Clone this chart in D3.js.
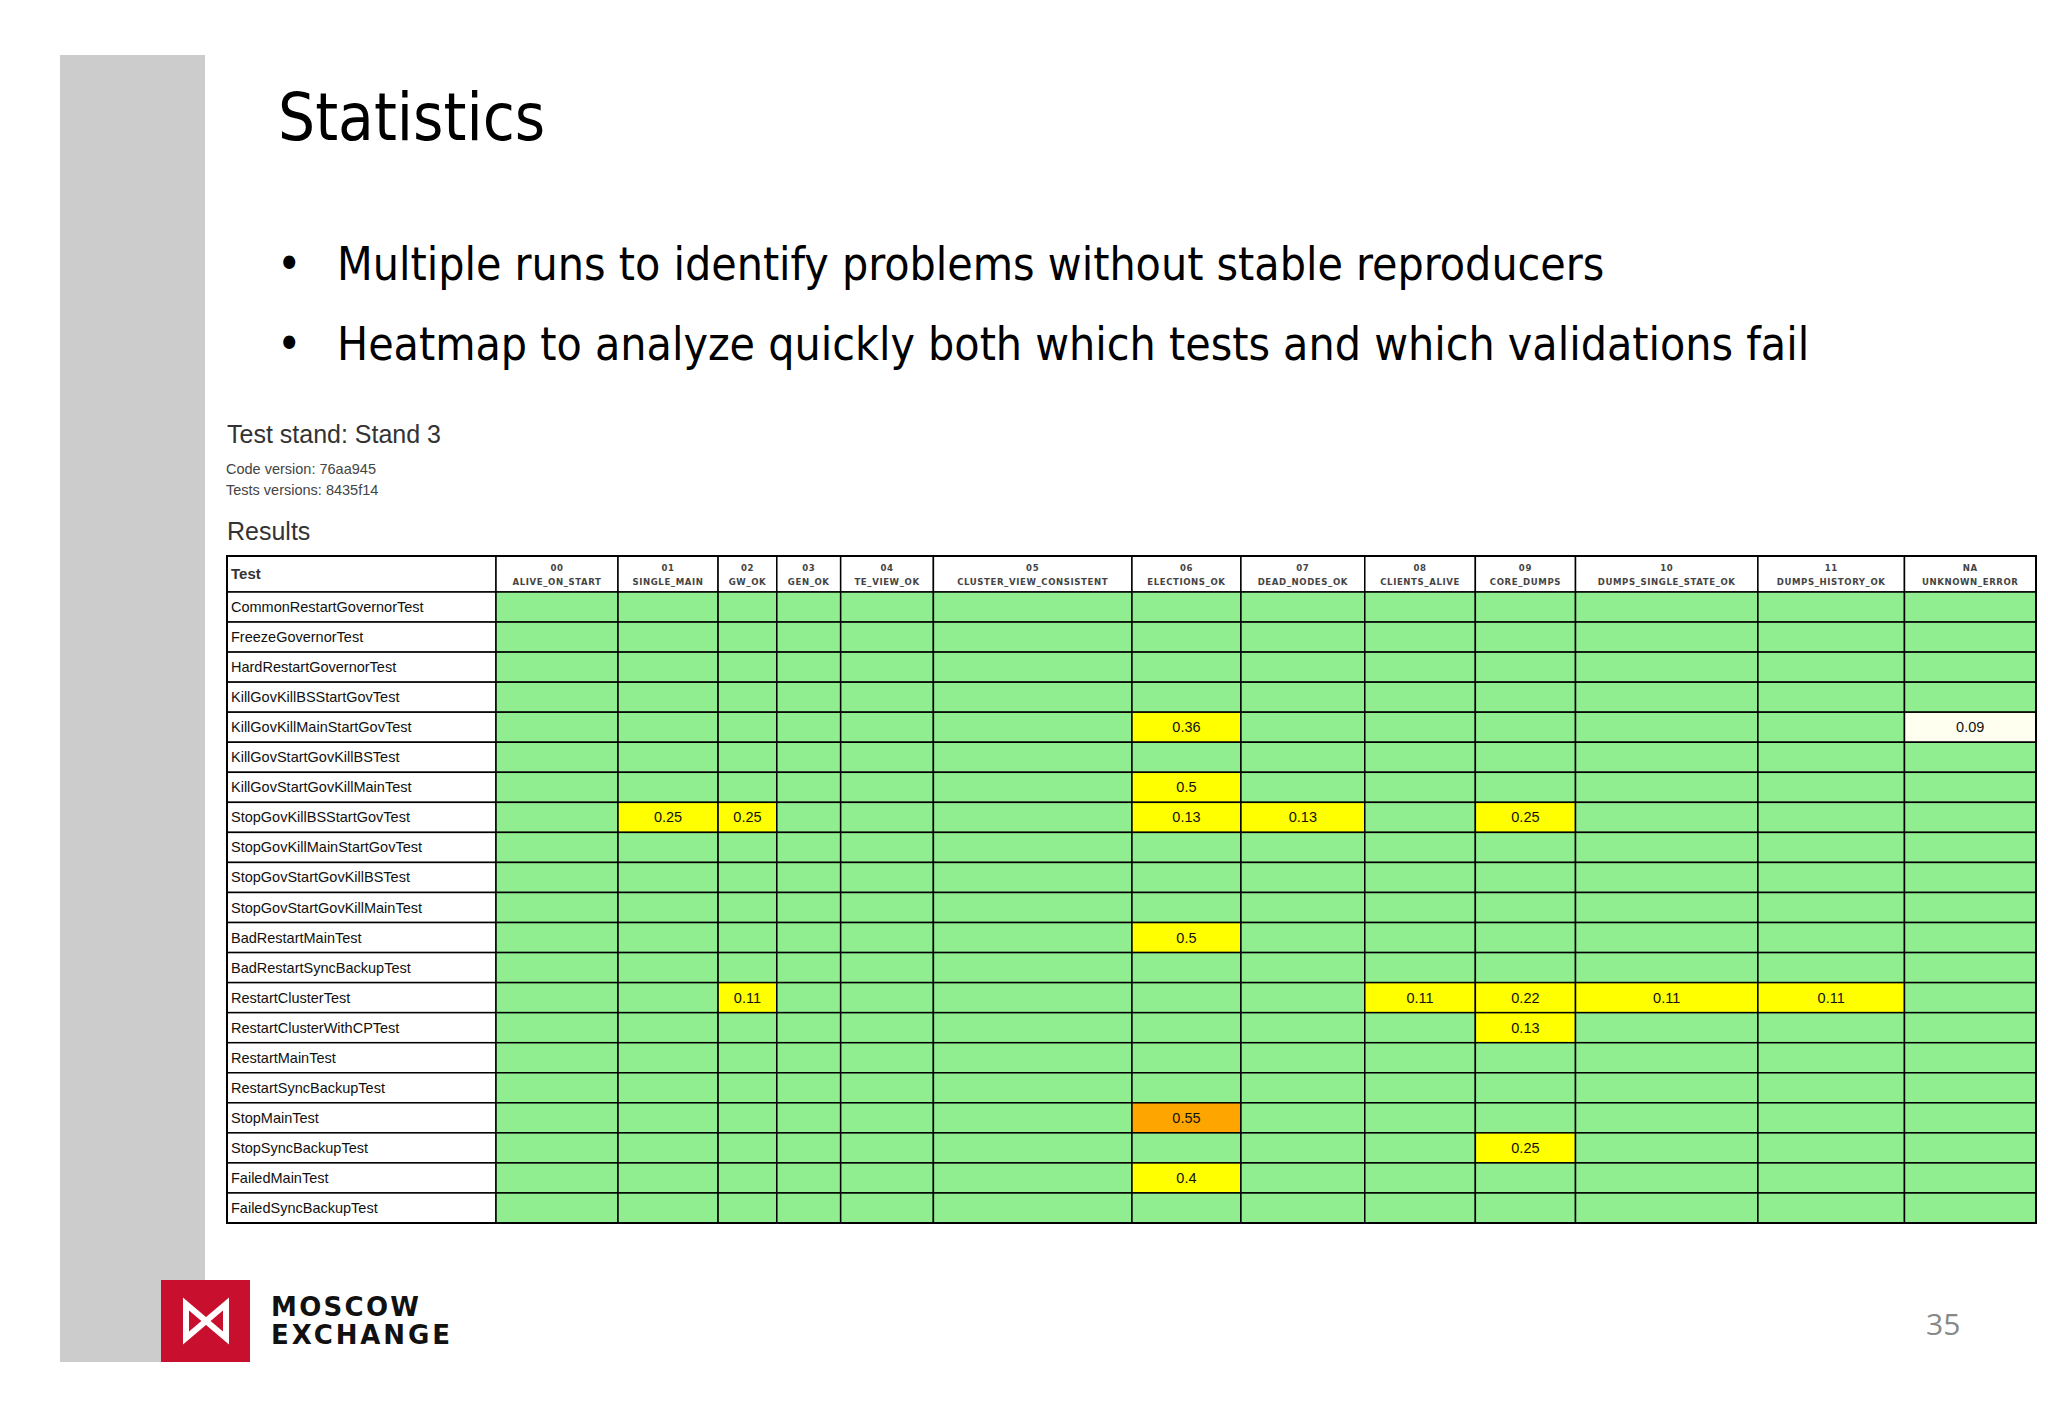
<!DOCTYPE html>
<html><head><meta charset="utf-8">
<script src="https://cdn.jsdelivr.net/npm/d3@7"></script>
<style>html,body{margin:0;padding:0;background:#fff;} svg{display:block;}</style>
</head><body>
<svg id="chart" width="2048" height="1418"></svg>
<script>
// ---------- data ----------
const tests = [
  "CommonRestartGovernorTest","FreezeGovernorTest","HardRestartGovernorTest",
  "KillGovKillBSStartGovTest","KillGovKillMainStartGovTest","KillGovStartGovKillBSTest",
  "KillGovStartGovKillMainTest","StopGovKillBSStartGovTest","StopGovKillMainStartGovTest",
  "StopGovStartGovKillBSTest","StopGovStartGovKillMainTest","BadRestartMainTest",
  "BadRestartSyncBackupTest","RestartClusterTest","RestartClusterWithCPTest",
  "RestartMainTest","RestartSyncBackupTest","StopMainTest","StopSyncBackupTest",
  "FailedMainTest","FailedSyncBackupTest"
];
const checkIds = ["00","01","02","03","04","05","06","07","08","09","10","11","NA"];
const checkNames = ["ALIVE_ON_START","SINGLE_MAIN","GW_OK","GEN_OK","TE_VIEW_OK",
  "CLUSTER_VIEW_CONSISTENT","ELECTIONS_OK","DEAD_NODES_OK","CLIENTS_ALIVE","CORE_DUMPS",
  "DUMPS_SINGLE_STATE_OK","DUMPS_HISTORY_OK","UNKNOWN_ERROR"];
// failure rates (non-zero cells only)
const failTest  = ["KillGovKillMainStartGovTest","KillGovKillMainStartGovTest","KillGovStartGovKillMainTest",
  "StopGovKillBSStartGovTest","StopGovKillBSStartGovTest","StopGovKillBSStartGovTest","StopGovKillBSStartGovTest","StopGovKillBSStartGovTest",
  "BadRestartMainTest",
  "RestartClusterTest","RestartClusterTest","RestartClusterTest","RestartClusterTest","RestartClusterTest",
  "RestartClusterWithCPTest","StopMainTest","StopSyncBackupTest","FailedMainTest"];
const failCheck = ["06","NA","06",
  "01","02","06","07","09",
  "06",
  "02","08","09","10","11",
  "09","06","09","06"];
const failRate  = [0.36,0.09,0.5,
  0.25,0.25,0.13,0.13,0.25,
  0.5,
  0.11,0.11,0.22,0.11,0.11,
  0.13,0.55,0.25,0.4];
const titleText = "Statistics";
const bullets = ["Multiple runs to identify problems without stable reproducers",
                 "Heatmap to analyze quickly both which tests and which validations fail"];
const standTitle = "Test stand: Stand 3";
const metaLines = ["Code version: 76aa945","Tests versions: 8435f14"];

// ---------- page ----------
const svg = d3.select("#chart");
svg.append("rect").attr("width",2048).attr("height",1418).attr("fill","#fff");
svg.append("rect").attr("x",60).attr("y",55).attr("width",145).attr("height",1307).attr("fill","#cccccc");

const slideFont = "'DejaVu Sans Condensed','DejaVu Sans',sans-serif";
svg.append("text").attr("x",278).attr("y",140).attr("font-family",slideFont)
  .attr("font-size",65).attr("fill","#000").text(titleText);
bullets.forEach((b,i)=>{
  const y = 280 + i*80;
  svg.append("text").attr("x",277).attr("y",y).attr("font-family",slideFont)
    .attr("font-size",46).attr("fill","#000").text("\u2022");
  svg.append("text").attr("x",337).attr("y",y).attr("font-family",slideFont)
    .attr("font-size",46).attr("fill","#000").text(b);
});

const reportFont = "'Liberation Sans',Arial,sans-serif";
svg.append("text").attr("x",227).attr("y",443).attr("font-family",reportFont)
  .attr("font-size",25).attr("fill","#333").text(standTitle);
metaLines.forEach((t,i)=>{
  svg.append("text").attr("x",226).attr("y",474+i*20.5).attr("font-family",reportFont)
    .attr("font-size",14.5).attr("fill","#444").text(t);
});
svg.append("text").attr("x",227).attr("y",540).attr("font-family",reportFont)
  .attr("font-size",25).attr("fill","#333").text("Results");

// ---------- heatmap table ----------
const tableLeft = 227, dataLeft = 496, tableRight = 2036;
const headTop = 556, headBottom = 592, tableBottom = 1223;
const headFont = "'Liberation Sans Narrow','DejaVu Sans Condensed',sans-serif";

// measure header labels to size columns (auto table layout)
const meas = svg.append("g");
const widths = checkNames.map(n=>{
  const t = meas.append("text").attr("font-family",headFont).attr("font-weight","bold")
    .attr("font-size",9.5).attr("letter-spacing",0.6).text(n);
  return t.node().getComputedTextLength() + 10;
});
meas.remove();
const cum = [0]; widths.forEach(w=>cum.push(cum[cum.length-1]+w));
const x = d3.scaleLinear().domain([0,cum[cum.length-1]]).range([dataLeft,tableRight]);
const colX0 = d => x(cum[checkIds.indexOf(d)]);
const colX1 = d => x(cum[checkIds.indexOf(d)+1]);
const y = d3.scaleBand().domain(tests).range([headBottom,tableBottom]);

const color = d3.scaleThreshold().domain([0.0001,0.1,0.51])
  .range(["#90ee90","#fffff0","#ffff00","#ffa500"]);

const lookup = new Map();
failTest.forEach((t,i)=>lookup.set(t+"|"+failCheck[i], failRate[i]));
const cells = [];
tests.forEach(t=>checkIds.forEach(c=>cells.push({t,c,v:lookup.get(t+"|"+c)||0})));

const g = svg.append("g");
// header
g.append("rect").attr("x",tableLeft).attr("y",headTop).attr("width",dataLeft-tableLeft)
  .attr("height",headBottom-headTop).attr("fill","#fff").attr("stroke","#000").attr("stroke-width",1.5);
g.append("text").attr("x",231).attr("y",579).attr("font-family",reportFont)
  .attr("font-weight","bold").attr("font-size",15).attr("fill","#333").text("Test");
const hd = g.selectAll("g.hd").data(checkIds).join("g").attr("class","hd");
hd.append("rect").attr("x",colX0).attr("y",headTop).attr("width",d=>colX1(d)-colX0(d))
  .attr("height",headBottom-headTop).attr("fill","#fff").attr("stroke","#000").attr("stroke-width",1.5);
hd.append("text").attr("x",d=>(colX0(d)+colX1(d))/2).attr("y",571).attr("text-anchor","middle")
  .attr("font-family",headFont).attr("font-weight","bold").attr("font-size",9.5)
  .attr("letter-spacing",0.6).attr("fill","#444").text(d=>d);
hd.append("text").attr("x",d=>(colX0(d)+colX1(d))/2).attr("y",585).attr("text-anchor","middle")
  .attr("font-family",headFont).attr("font-weight","bold").attr("font-size",9.5)
  .attr("letter-spacing",0.6).attr("fill","#444").text((d,i)=>checkNames[i]);

// row labels
const rl = g.selectAll("g.rl").data(tests).join("g").attr("class","rl");
rl.append("rect").attr("x",tableLeft).attr("y",d=>y(d)).attr("width",dataLeft-tableLeft)
  .attr("height",y.bandwidth()).attr("fill","#fff").attr("stroke","#000").attr("stroke-width",1.5);
rl.append("text").attr("x",231).attr("y",d=>y(d)+y.bandwidth()/2+5).attr("font-family",reportFont)
  .attr("font-size",14.5).attr("fill","#111").text(d=>d);

// cells
const cg = g.selectAll("g.cell").data(cells).join("g").attr("class","cell");
cg.append("rect").attr("x",d=>colX0(d.c)).attr("y",d=>y(d.t)).attr("width",d=>colX1(d.c)-colX0(d.c))
  .attr("height",y.bandwidth()).attr("fill",d=>color(d.v)).attr("stroke","#000").attr("stroke-width",1.5);
cg.filter(d=>d.v>0).append("text").attr("x",d=>(colX0(d.c)+colX1(d.c))/2)
  .attr("y",d=>y(d.t)+y.bandwidth()/2+5).attr("text-anchor","middle")
  .attr("font-family",reportFont).attr("font-size",14.5).attr("fill","#111").text(d=>String(d.v));

// outer border
g.append("rect").attr("x",tableLeft).attr("y",headTop).attr("width",tableRight-tableLeft)
  .attr("height",tableBottom-headTop).attr("fill","none").attr("stroke","#000").attr("stroke-width",2);

// ---------- footer ----------
svg.append("rect").attr("x",161).attr("y",1280).attr("width",89).attr("height",82).attr("fill","#c8102e");
svg.append("path").attr("d","M186,1304 L206,1321 L186,1338 Z M226,1304 L206,1321 L226,1338 Z")
  .attr("fill","none").attr("stroke","#fff").attr("stroke-width",6).attr("stroke-linejoin","miter");
const logoFont = "'DejaVu Sans',sans-serif";
svg.append("text").attr("x",271).attr("y",1316).attr("font-family",logoFont).attr("font-weight","bold")
  .attr("font-size",26).attr("fill","#111").attr("textLength",148).attr("lengthAdjust","spacing").text("MOSCOW");
svg.append("text").attr("x",271).attr("y",1344).attr("font-family",logoFont).attr("font-weight","bold")
  .attr("font-size",26).attr("fill","#111").attr("textLength",179).attr("lengthAdjust","spacing").text("EXCHANGE");
svg.append("text").attr("x",1926).attr("y",1335).attr("font-family","'Open Sans',sans-serif")
  .attr("font-size",30).attr("fill","#888").text("35");
</script>
</body></html>
